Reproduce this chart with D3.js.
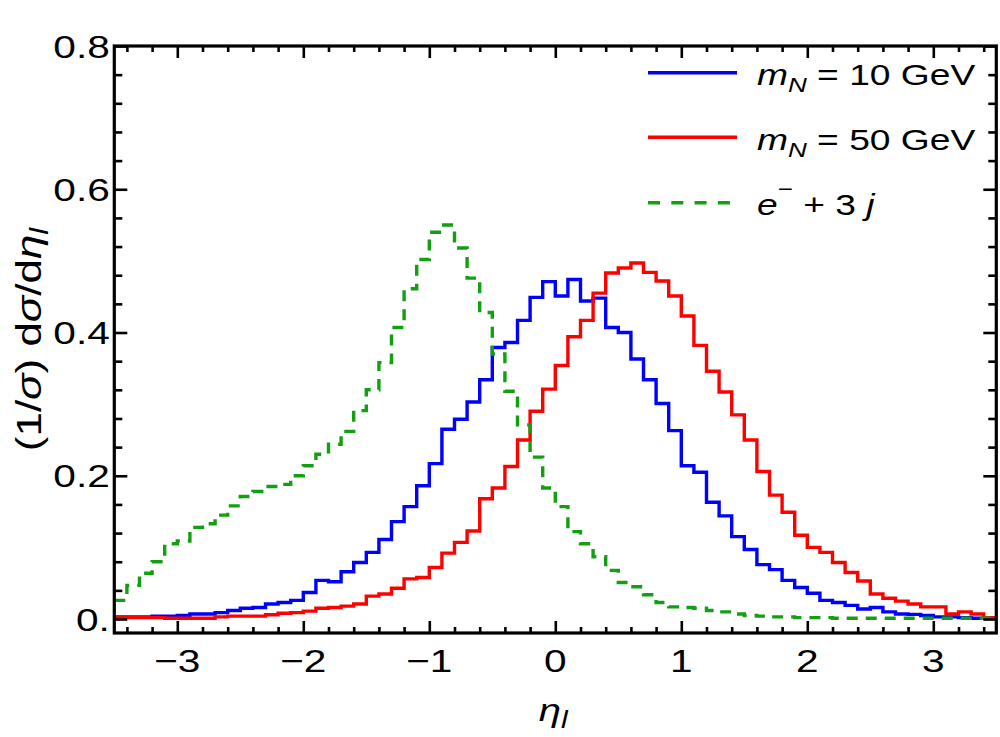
<!DOCTYPE html>
<html><head><meta charset="utf-8">
<script src="https://cdn.jsdelivr.net/npm/d3@7/dist/d3.min.js"></script>
<style>
body{margin:0;background:#fff}
svg{display:block;background:#fff}
text{font-family:"Liberation Sans",Arial,Helvetica,sans-serif;fill:#000;white-space:pre}
</style>
</head><body>
<svg id="c" width="1000" height="737"></svg>
<script>
// ---- data (bins of width 0.1 from -3.5 to 3.5) ----
const binStart = -3.5;
const binWidth = 0.1;
const mN10 = [0.003,0.003,0.003,0.004,0.004,0.005,0.007,0.007,0.009,0.012,
              0.015,0.016,0.021,0.023,0.026,0.037,0.054,0.052,0.066,0.079,
              0.093,0.111,0.136,0.157,0.186,0.217,0.265,0.279,0.303,0.334,
              0.379,0.386,0.417,0.449,0.471,0.451,0.474,0.444,0.448,0.407,
              0.400,0.363,0.334,0.301,0.263,0.214,0.205,0.163,0.144,0.115,
              0.097,0.076,0.069,0.054,0.044,0.036,0.026,0.023,0.019,0.014,
              0.016,0.010,0.007,0.0065,0.005,0.003,0.003,0.002,0.001,0.001];
const mN50 = [0.002,0.002,0.002,0.002,0.001,0.001,0.001,0.001,0.003,0.004,
              0.004,0.004,0.006,0.008,0.009,0.011,0.015,0.016,0.018,0.021,
              0.032,0.035,0.043,0.056,0.058,0.072,0.092,0.107,0.123,0.168,
              0.183,0.213,0.250,0.290,0.321,0.354,0.394,0.417,0.455,0.483,
              0.490,0.497,0.484,0.472,0.451,0.423,0.382,0.346,0.317,0.285,
              0.250,0.206,0.173,0.149,0.117,0.100,0.093,0.079,0.065,0.053,
              0.035,0.029,0.025,0.021,0.017,0.017,0.007,0.010,0.007,0.002];
const bkg3j = [0.026,0.047,0.064,0.080,0.105,0.109,0.128,0.133,0.145,0.158,
               0.171,0.178,0.185,0.188,0.200,0.214,0.230,0.244,0.262,0.291,
               0.320,0.358,0.407,0.461,0.502,0.540,0.550,0.518,0.476,0.428,
               0.370,0.318,0.271,0.226,0.183,0.157,0.122,0.105,0.087,0.068,
               0.051,0.045,0.034,0.023,0.017,0.016,0.015,0.012,0.010,0.007,
               0.005,0.004,0.003,0.003,0.002,0.002,0.002,0.001,0.001,0.001,
               0.001,0.001,0.001,0.001,0.001,0.001,0.001,0.001,0.001,0.001];
const xTicks = [-3,-2,-1,0,1,2,3];
const xTickLabels = ["\u22123","\u22122","\u22121","0","1","2","3"];
const yTicks = [0,0.2,0.4,0.6,0.8];
const yTickLabels = ["0.","0.2","0.4","0.6","0.8"];
const seriesNames = ["mN10","mN50","bkg"];
const seriesColors = ["#0000ff","#ff0000","#12a012"];

// ---- layout ----
const svg = d3.select("#c");
const L = 114.3, R = 996.3, T = 46, B = 633;
const x = d3.scaleLinear().domain([-3.5, 3.5]).range([L, R]);
const y = d3.scaleLinear().domain([-0.0195, 0.8]).range([B, T]);
const FX = 1.27; // horizontal glyph widening

svg.append("defs").append("clipPath").attr("id","pc")
  .append("rect").attr("x",L).attr("y",T).attr("width",R-L).attr("height",B-T);

// ---- histograms ----
const line = d3.line().x(d=>x(d[0])).y(d=>y(d[1])).curve(d3.curveStepAfter);
function pts(vals){
  const p = vals.map((v,k)=>[binStart + k*binWidth, v]);
  p.push([binStart + vals.length*binWidth, vals[vals.length-1]]);
  return p;
}
const plot = svg.append("g").attr("clip-path","url(#pc)");
const allSeries = [mN10, mN50, bkg3j];
allSeries.forEach((vals,i)=>{
  plot.append("path").attr("d", line(pts(vals)))
    .attr("fill","none").attr("stroke", seriesColors[i])
    .attr("stroke-width", 3.4).attr("stroke-linejoin","miter")
    .attr("stroke-dasharray", i===2 ? "11,8" : null);
});

// ---- axes / ticks ----
const xMinor = d3.range(-34, 35, 2).map(v=>v/10).filter(v=>Math.abs(v-Math.round(v))>1e-6);
const yMinor = d3.range(0, 81, 4).map(v=>v/100).filter(v=>Math.abs(v*5-Math.round(v*5))>1e-6);
function tickStyle(g){
  g.select(".domain").remove();
  g.selectAll(".tick line").attr("stroke","#000").attr("stroke-width",2.6);
  g.selectAll(".tick text").remove();
}
const axes = svg.append("g");
axes.append("g").attr("transform",`translate(0,${B})`).call(d3.axisBottom(x).tickValues(xTicks).tickSize(-12)).call(tickStyle);
axes.append("g").attr("transform",`translate(0,${B})`).call(d3.axisBottom(x).tickValues(xMinor).tickSize(-6)).call(tickStyle);
axes.append("g").attr("transform",`translate(0,${T})`).call(d3.axisTop(x).tickValues(xTicks).tickSize(-12)).call(tickStyle);
axes.append("g").attr("transform",`translate(0,${T})`).call(d3.axisTop(x).tickValues(xMinor).tickSize(-6)).call(tickStyle);
axes.append("g").attr("transform",`translate(${L},0)`).call(d3.axisLeft(y).tickValues(yTicks).tickSize(-13)).call(tickStyle);
axes.append("g").attr("transform",`translate(${L},0)`).call(d3.axisLeft(y).tickValues(yMinor).tickSize(-8)).call(tickStyle);
axes.append("g").attr("transform",`translate(${R},0)`).call(d3.axisRight(y).tickValues(yTicks).tickSize(-13)).call(tickStyle);
axes.append("g").attr("transform",`translate(${R},0)`).call(d3.axisRight(y).tickValues(yMinor).tickSize(-8)).call(tickStyle);

// frame
svg.append("rect").attr("x",L).attr("y",T).attr("width",R-L).attr("height",B-T)
  .attr("fill","none").attr("stroke","#000").attr("stroke-width",3.2);

// ---- tick labels ----
function sText(px, py, anchor, size, f, rot){
  const g = svg.append("g").attr("transform",`translate(${px},${py})${rot?` rotate(${rot})`:""} scale(${f},1)`);
  return g.append("text").attr("x",0).attr("y",0).attr("text-anchor",anchor).attr("font-size",size);
}
xTicks.forEach((v,i)=>{
  sText(x(v), 671.5, "middle", 32, FX).text(xTickLabels[i]);
});
yTicks.forEach((v,i)=>{
  sText(L-4.5, y(v), "end", 32, FX).attr("dy","0.36em").text(yTickLabels[i]);
});

// ---- axis titles ----
const xt = sText((L+R)/2 - 2, 721, "middle", 32, 1.25);
xt.append("tspan").attr("font-style","italic").text("\u03b7");
xt.append("tspan").attr("font-style","italic").attr("font-size",24).attr("dy",7).text("l");

const yt = sText(41, (T+B)/2, "middle", 36, 1.22, -90);
yt.append("tspan").text("(1/");
yt.append("tspan").attr("font-style","italic").text("\u03c3");
yt.append("tspan").text(") d");
yt.append("tspan").attr("font-style","italic").text("\u03c3");
yt.append("tspan").text("/d");
yt.append("tspan").attr("font-style","italic").text("\u03b7");
yt.append("tspan").attr("font-style","italic").attr("font-size",25).attr("dy",7).text("l");

// ---- legend ----
const legY = [72.7, 137.3, 202.7];
const legBase = [85, 150, 215];
seriesNames.forEach((n,i)=>{
  svg.append("line").attr("x1",648).attr("x2",737).attr("y1",legY[i]).attr("y2",legY[i])
    .attr("stroke",seriesColors[i]).attr("stroke-width",3.4)
    .attr("stroke-dasharray", i===2 ? "12,11.3" : null);
});
for (let i=0;i<2;i++){
  const t = sText(757, legBase[i], "start", 30, 1.24);
  t.append("tspan").attr("font-style","italic").text("m");
  t.append("tspan").attr("font-style","italic").attr("font-size",21).attr("dy",6.7).text("N");
  t.append("tspan").attr("dy",-6.7).text(i===0 ? " = 10 GeV" : " = 50 GeV");
}
{
  const t = sText(757, legBase[2], "start", 30, 1.24);
  t.append("tspan").attr("font-style","italic").text("e");
  t.append("tspan").attr("font-size",21).attr("dy",-19).text("\u2212");
  t.append("tspan").attr("dy",19).text(" + 3 ");
  t.append("tspan").attr("font-style","italic").text("j");
}
</script>
</body></html>
